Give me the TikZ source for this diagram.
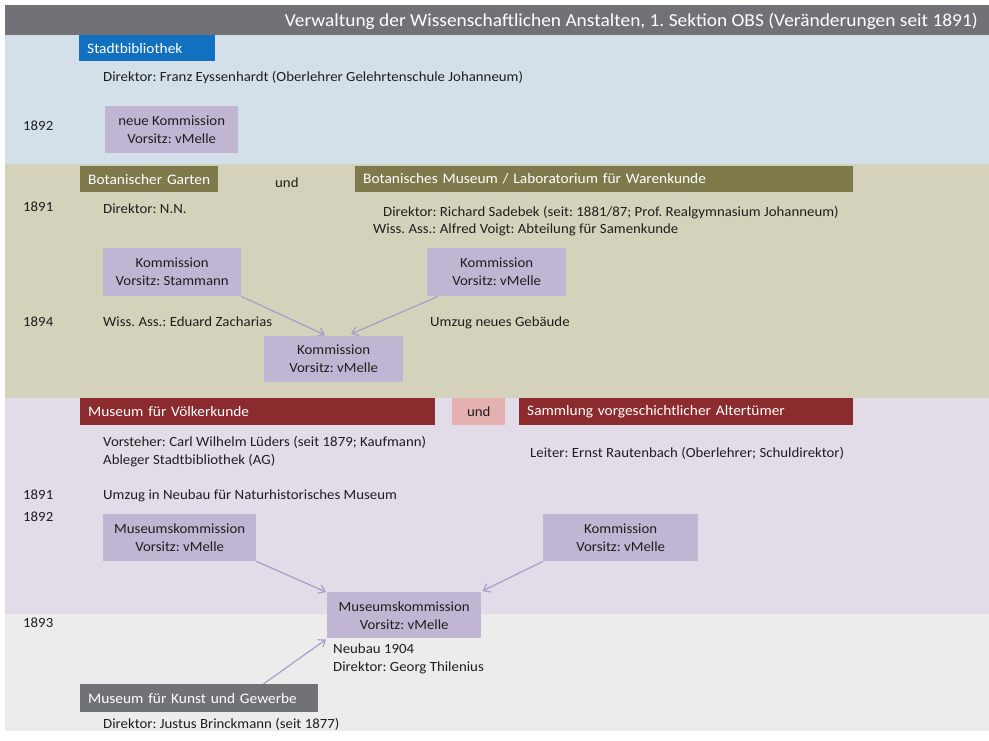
\documentclass[tikz,border=0pt]{standalone}
\usepackage{fontspec}
\setmainfont{Carlito}[FakeStretch=1.06]
\usetikzlibrary{arrows.meta,calc}
\definecolor{hdrgray}{HTML}{707275}
\definecolor{bandblue}{HTML}{D3E0EA}
\definecolor{bandolive}{HTML}{D4D2BA}
\definecolor{bandlav}{HTML}{E2DCE8}
\definecolor{bandgray}{HTML}{ECECEC}
\definecolor{boxblue}{HTML}{1270C0}
\definecolor{boxolive}{HTML}{7E7A4C}
\definecolor{boxred}{HTML}{8C2B2D}
\definecolor{boxpink}{HTML}{E4B0B0}
\definecolor{komfill}{HTML}{C0B6D4}
\definecolor{arrowcol}{HTML}{A99CCB}
\definecolor{txt}{HTML}{1E1E1E}
\frenchspacing
\tikzset{
  hdrbox/.style={anchor=north west, inner xsep=8pt, inner ysep=0pt, text=white, align=left,
    font=\fontsize{14.5}{16}\selectfont},
  kom/.style={anchor=north west, fill=komfill, inner sep=0pt, align=center, text=txt,
    font=\fontsize{14}{18}\selectfont},
  body/.style={anchor=base west, inner sep=0pt, text=txt, font=\fontsize{14}{18}\selectfont},
  conn/.style={draw=arrowcol, line width=1.2pt, -{Straight Barb[length=6pt,width=9pt]}}
}
\begin{document}
\begin{tikzpicture}[x=1pt,y=-1pt]
\useasboundingbox (0,0) rectangle (989,740);
% bands
\fill[hdrgray] (5,5) rectangle (989,35);
\fill[bandblue] (5,35) rectangle (989,164);
\fill[bandolive] (5,164) rectangle (989,398);
\fill[bandlav] (5,398) rectangle (989,614);
\fill[bandgray] (5,614) rectangle (989,731);
\node[anchor=base east, inner sep=0pt, text=white, font=\fontsize{18.3}{20}\selectfont] (title) at (978,26)
  {Verwaltung der Wissenschaftlichen Anstalten, 1. Sektion OBS (Veränderungen seit 1891)};

% Stadtbibliothek
\node[hdrbox, fill=boxblue, text width=120pt, minimum height=26pt] (stadt) at (79,35) {Stadtbibliothek};
\node[body] (t1) at (103,81) {Direktor: Franz Eyssenhardt (Oberlehrer Gelehrtenschule Johanneum)};
\node[body] (y1) at (23,130) {1892};
\node[kom, minimum width=133pt, minimum height=47pt] (nk) at (105,106) {neue Kommission\\Vorsitz: vMelle};

% Botanik
\node[hdrbox, fill=boxolive, text width=122pt, minimum height=26pt] (botg) at (80,166) {Botanischer Garten};
\node[body] (und1) at (275,187) {und};
\node[hdrbox, fill=boxolive, text width=482pt, minimum height=26pt] (botm) at (355,166) {Botanisches Museum / Laboratorium für Warenkunde};
\node[body] (y2) at (23,211) {1891};
\node[body] (t2) at (103,213) {Direktor: N.N.};
\node[body] (t3) at (383,216) {Direktor: Richard Sadebek (seit: 1881/87; Prof. Realgymnasium Johanneum)};
\node[body] (t4) at (373,233) {Wiss. Ass.: Alfred Voigt: Abteilung für Samenkunde};
\node[kom, minimum width=138pt, minimum height=48pt] (k1) at (103,248) {Kommission\\Vorsitz: Stammann};
\node[kom, minimum width=139pt, minimum height=48pt] (k2) at (427,248) {Kommission\\Vorsitz: vMelle};
\node[body] (y3) at (23,326) {1894};
\node[body] (t5) at (103,326) {Wiss. Ass.: Eduard Zacharias};
\node[body] (t6) at (430,326) {Umzug neues Gebäude};
\node[kom, minimum width=139pt, minimum height=46pt] (k3) at (264,336) {Kommission\\Vorsitz: vMelle};
\draw[conn] (k1.south east) -- ($(k3.north west)+(61,-1)$);
\draw[conn] ($(k2.south west)+(11,0)$) -- ($(k3.north west)+(87,-2)$);

% Völkerkunde
\node[hdrbox, fill=boxred, text width=339pt, minimum height=27pt] (mv) at (80,398) {Museum für Völkerkunde};
\node[anchor=north west, fill=boxpink, inner sep=0pt, minimum width=53pt, minimum height=27pt, text=txt,
  font=\fontsize{14}{16}\selectfont] (und2) at (452,398) {und};
\node[hdrbox, fill=boxred, text width=318pt, minimum height=27pt] (sv) at (519,398) {Sammlung vorgeschichtlicher Altertümer};
\node[body] (t7) at (103,446) {Vorsteher: Carl Wilhelm Lüders (seit 1879; Kaufmann)};
\node[body] (t8) at (103,464) {Ableger Stadtbibliothek (AG)};
\node[body] (t9) at (530,457) {Leiter: Ernst Rautenbach (Oberlehrer; Schuldirektor)};
\node[body] (y4) at (23,499) {1891};
\node[body] (t10) at (103,499) {Umzug in Neubau für Naturhistorisches Museum};
\node[body] (y5) at (23,521) {1892};
\node[kom, minimum width=153pt, minimum height=47pt] (m1) at (103,514) {Museumskommission\\Vorsitz: vMelle};
\node[kom, minimum width=155pt, minimum height=47pt] (m2) at (543,514) {Kommission\\Vorsitz: vMelle};
\node[body] (y6) at (23,627) {1893};
\node[kom, minimum width=154pt, minimum height=46pt] (m3) at (327,592) {Museumskommission\\Vorsitz: vMelle};
\draw[conn] (m1.south east) -- ($(m3.north west)+(-1,0)$);
\draw[conn] (m2.south west) -- ($(m3.north east)+(1,-1)$);
\node[body] (t11) at (333,653) {Neubau 1904};
\node[body] (t12) at (333,671) {Direktor: Georg Thilenius};

% Kunst und Gewerbe
\node[hdrbox, fill=hdrgray, text width=222pt, minimum height=28pt] (kg) at (80,684) {Museum für Kunst und Gewerbe};
\node[body] (t13) at (103,728) {Direktor: Justus Brinckmann (seit 1877)};
\draw[conn] ($(kg.north east)+(-55,0)$) -- ($(m3.south west)+(-1,1)$);
\end{tikzpicture}
\end{document}
